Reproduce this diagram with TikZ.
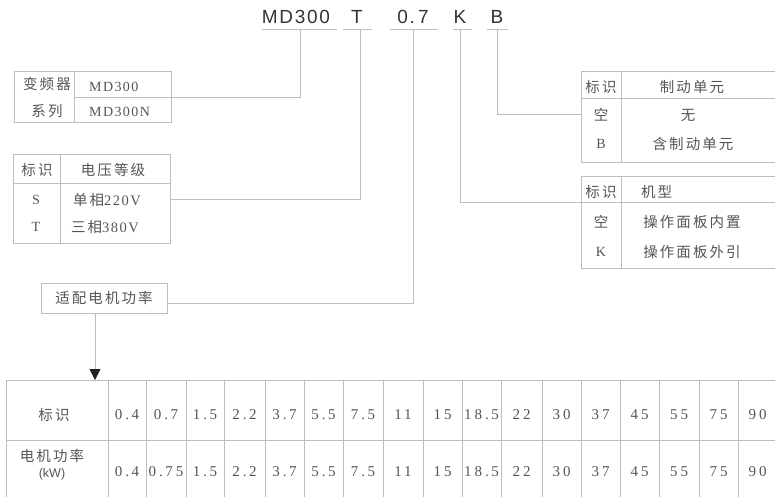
\documentclass[tikz,border=0pt]{standalone}
\usepackage{fontspec}
\setmainfont{Liberation Serif}
\newfontfamily\cjkf[LetterSpace=14]{Noto Sans CJK SC}
\newfontfamily\numf[LetterSpace=20]{Liberation Serif}
\newfontfamily\latf[LetterSpace=10]{Liberation Serif}
\newfontfamily\codef[LetterSpace=9]{Liberation Sans}
\newfontfamily\sansf{Liberation Sans}
\definecolor{lncol}{HTML}{BDBDBD}
\definecolor{txcol}{HTML}{555555}
\definecolor{cdcol}{HTML}{333333}
\definecolor{tipcol}{HTML}{222222}
\newcommand{\dg}{\hspace{2.5pt}}
\usetikzlibrary{arrows.meta}
\begin{document}
\begin{tikzpicture}[x=1pt,y=-1pt,
  ln/.style={draw=lncol,line width=0.8pt},
  tx/.style={text=txcol,inner sep=0pt,font=\fontsize{14.5}{16}\selectfont\cjkf},
  nm/.style={text=txcol,inner sep=0pt,font=\fontsize{15}{17}\selectfont\numf},
  lt/.style={text=txcol,inner sep=0pt,font=\fontsize{14}{16}\selectfont\latf},
  cd/.style={text=cdcol,inner sep=0pt,font=\fontsize{19}{21}\selectfont\codef},
  arr/.style={ln,-{Triangle[length=11pt,width=11pt,color=tipcol]}}]
\useasboundingbox (0,0) rectangle (775,497);
% ---- code line
\node[cd] (cMD) at (296,17) {MD300};
\node[cd] (cT)  at (357,17) {T};
\node[cd] (c07) at (413,17) {0.\,7};
\node[cd] (cK)  at (460,17) {K};
\node[cd] (cB)  at (497,17) {B};
\draw[ln] (262,29) -- (337,29);
\draw[ln] (343,29) -- (372,29);
\draw[ln] (390,29) -- (438,29);
\draw[ln] (453,29) -- (472,29);
\draw[ln] (487,29) -- (508,29);
\coordinate (uMD) at (300,29);
\coordinate (uT)  at (360,29);
\coordinate (u07) at (413,29);
\coordinate (uK)  at (460,29);
\coordinate (uB)  at (497,29);
% ---- box A: series
\draw[ln] (14,71) rectangle (171,122);
\draw[ln] (74,71) -- (74,122);
\draw[ln] (74,97) -- (171,97);
\coordinate (aE) at (171,97);
\node[tx] (a1) at (47,84) {变频器};
\node[tx] (a2) at (47,111) {系列};
\node[lt,anchor=west] (a3) at (89,87) {MD300};
\node[lt,anchor=west] (a4) at (89,112) {MD300N};
% ---- box B: voltage
\draw[ln] (13,154) rectangle (170,243);
\draw[ln] (60,154) -- (60,243);
\draw[ln] (13,183) -- (170,183);
\coordinate (bE) at (170,199);
\node[tx] (b1) at (37,170) {标识};
\node[tx] (b2) at (113,170) {电压等级};
\node[lt] (b3) at (36,200) {S};
\node[tx] (b4) at (107,200) {单相{\latf 220V}};
\node[lt] (b5) at (36,227) {T};
\node[tx] (b6) at (105,227) {三相{\latf 380V}};
% ---- box C: motor power
\node[tx,draw=lncol,line width=0.8pt,minimum width=126pt,minimum height=30pt,inner sep=0pt] (cbox) at (104,298) {适配电机功率};
\coordinate (cE) at (167,303);
\coordinate (cS) at (95,313);
\coordinate (tT) at (95,380);
% ---- right box D: braking unit
\draw[ln] (775,71) -- (581,71) -- (581,162) -- (775,162);
\draw[ln] (621,71) -- (621,162);
\draw[ln] (581,98) -- (775,98);
\coordinate (dW) at (581,114);
\node[tx] (d1) at (601,87) {标识};
\node[tx] (d2) at (692,87) {制动单元};
\node[tx] (d3) at (601,115) {空};
\node[tx] (d4) at (688,115) {无};
\node[lt] (d5) at (601,144) {B};
\node[tx] (d6) at (693,144) {含制动单元};
% ---- right box E: panel
\draw[ln] (775,176) -- (581,176) -- (581,268) -- (775,268);
\draw[ln] (621,176) -- (621,268);
\draw[ln] (581,202) -- (775,202);
\coordinate (eW) at (581,202);
\node[tx] (e1) at (601,192) {标识};
\node[tx,anchor=west] (e2) at (641,192) {机型};
\node[tx] (e3) at (601,222) {空};
\node[tx] (e4) at (692,222) {操作面板内置};
\node[lt] (e5) at (601,252) {K};
\node[tx] (e6) at (692,252) {操作面板外引};
% ---- connectors
\draw[ln] (uMD) |- (aE);
\draw[ln] (uT) |- (bE);
\draw[ln] (u07) |- (cE);
\draw[ln] (uK) |- (eW);
\draw[ln] (uB) |- (dW);
\draw[arr] (cS) -- (tT);
% ---- bottom table
\draw[ln] (6,380) -- (775,380);
\draw[ln] (6,440) -- (775,440);
\draw[ln] (6,380) -- (6,497);
\foreach \x in {108,146,186,224,265,304,343,383,423,462,501,542,581,620,659,699,738}
  \draw[ln] (\x,380) -- (\x,497);
\node[tx] (t1) at (54,415) {标识};
\node[tx] (t2) at (52,456) {电机功率};
\node[text=txcol,inner sep=0pt,font=\fontsize{12.5}{14}\selectfont\sansf] (t3) at (52,474) {(kW)};
\foreach \v/\c [count=\i] in {0.\dg4/127,0.\dg7/166,1.\dg5/205,2.\dg2/244.5,3.\dg7/284.5,5.\dg5/323.5,7.\dg5/363,11/403,15/442.5,18.\dg5/481.5,22/521.5,30/561.5,37/600.5,45/639.5,55/679,75/718.5,90/757.5}
  \node[nm] (r\i) at (\c,415) {\v};
\foreach \v/\c [count=\i] in {0.\dg4/127,0.\dg75/166,1.\dg5/205,2.\dg2/244.5,3.\dg7/284.5,5.\dg5/323.5,7.\dg5/363,11/403,15/442.5,18.\dg5/481.5,22/521.5,30/561.5,37/600.5,45/639.5,55/679,75/718.5,90/757.5}
  \node[nm] (s\i) at (\c,472) {\v};
\end{tikzpicture}
\end{document}
